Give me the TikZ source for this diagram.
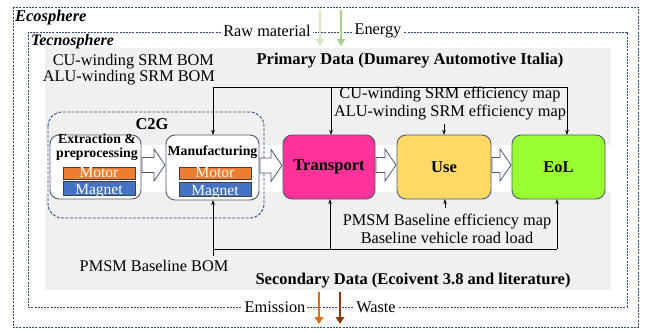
\documentclass[tikz,border=0pt]{standalone}
\usepackage{fontspec}
\setmainfont{Liberation Serif}
\usetikzlibrary{arrows.meta,calc}
\definecolor{ecoblue}{HTML}{2F4A7F}
\definecolor{boxline}{HTML}{4D5A73}
\definecolor{bggrey}{HTML}{F0F0F0}
\definecolor{transp}{HTML}{FF3399}
\definecolor{usecol}{HTML}{FFD966}
\definecolor{eolcol}{HTML}{99FF33}
\definecolor{motorcol}{HTML}{ED7D31}
\definecolor{magnetcol}{HTML}{4472C4}
\definecolor{barline}{HTML}{404040}
\definecolor{greenA}{HTML}{D5E8C8}
\definecolor{greenB}{HTML}{A9D18E}
\definecolor{orangeA}{HTML}{E36C0A}
\definecolor{brownA}{HTML}{843C0C}
\newcommand\hollowarrow[2]{%
  \draw[hollow] let \p1=($(#1.east)+(1,0)$), \p2=($(#2.west)+(-1,0)$), \n1={\x2-11pt}, \n2={\y1+2pt} in
  (\x1,\n2-7.5pt) -- (\n1,\n2-7.5pt) -- (\n1,\n2-16pt) -- (\x2,\n2) -- (\n1,\n2+16pt) -- (\n1,\n2+7.5pt) -- (\x1,\n2+7.5pt) -- cycle;}
\begin{document}
\begin{tikzpicture}[x=1pt,y=-1pt,
  every node/.style={inner sep=0pt,outer sep=0pt},
  font=\fontsize{16.3}{18}\selectfont,
  spheres/.style={draw=ecoblue,line width=0.8pt,dash pattern=on 2pt off 1.2pt},
  c2gbox/.style={draw=ecoblue,line width=0.9pt,dash pattern=on 3pt off 1.5pt,rounded corners=14pt},
  procbox/.style={draw=boxline,line width=0.9pt,rounded corners=9pt,minimum height=64pt},
  bigtxt/.style={font=\fontsize{16.5}{18}\selectfont\bfseries},
  smallbold/.style={font=\fontsize{13.8}{16}\selectfont\bfseries},
  barbox/.style={draw=barline,line width=0.6pt,minimum width=72pt,minimum height=12pt},
  bartext/.style={font=\fontsize{15.5}{16}\selectfont,text=white,anchor=base,text height=10pt},
  feed/.style={draw=black,line width=0.9pt},
  tip/.style={-{Stealth[length=5pt,width=3.5pt]}},
  hollow/.style={draw=boxline,fill=white,line width=0.8pt,line join=miter},
  flowarrow/.style={line width=2.6pt,-{Triangle[length=7pt,width=8.5pt]}},
  gap/.style={fill=white,inner xsep=2pt,inner ysep=1pt}
]
\useasboundingbox (0,0) rectangle (648,330);
% backgrounds
\fill[bggrey] (45,48) rectangle (611,290);
\fill[white] (45,145) rectangle (611,192);
% spheres
\draw[spheres] (13,7) rectangle (638,327);
\draw[spheres] (28,32) rectangle (627,307);
\node[anchor=west,font=\fontsize{16.5}{18}\selectfont\bfseries\itshape] (ecolbl) at (15,18) {Ecosphere};
\node[anchor=west,font=\fontsize{16}{18}\selectfont\bfseries\itshape] (teclbl) at (31,42) {Tecnosphere};
% inputs / outputs
\coordinate (inA1) at (320,10); \coordinate (inA2) at (320,46);
\coordinate (inB1) at (341,10); \coordinate (inB2) at (341,46);
\draw[flowarrow,greenA] (inA1) -- (inA2);
\draw[flowarrow,greenB] (inB1) -- (inB2);
\coordinate (outA1) at (319,292); \coordinate (outA2) at (319,324);
\coordinate (outB1) at (340,292); \coordinate (outB2) at (340,324);
\draw[flowarrow,orangeA] (outA1) -- (outA2);
\draw[flowarrow,brownA] (outB1) -- (outB2);
\node[gap] (raw) at (267,31) {Raw material};
\node[gap] (energy) at (378,31) {Energy};
\node[gap] (emission) at (275,307) {Emission};
\node[gap] (waste) at (376,307) {Waste};
% data labels
\node[bigtxt] (primary) at (410,61) {Primary Data (Dumarey Automotive Italia)};
\node[bigtxt] (secondary) at (413,281) {Secondary Data (Ecoivent 3.8 and literature)};
\node[anchor=east] (cubom) at (214,62) {CU-winding SRM BOM};
\node[anchor=east] (alubom) at (215,78) {ALU-winding SRM BOM};
\node (cueff) at (450,95) {CU-winding SRM efficiency map};
\node (alueff) at (450,113) {ALU-winding SRM efficiency map};
\node (pmsmbom) at (154,266) {PMSM Baseline BOM};
\node (pmsmeff) at (447,222) {PMSM Baseline efficiency map};
\node (roadload) at (447,238) {Baseline vehicle road load};
% C2G group
\draw[c2gbox] (48,112) rectangle (264,218);
\node[bigtxt] (c2glbl) at (152,124) {C2G};
% extraction box
\node[procbox,fill=white,minimum width=91pt,minimum height=64pt] (ext) at (95.5,167) {};
\node[smallbold,align=center,anchor=north] (extlbl) at (97,133.5) {Extraction \&\\[-2pt]preprocessing};
\node[barbox,fill=motorcol] (extmotor) at (99,173) {};
\node[bartext,text depth=0pt] (extmotortx) at ($(extmotor.south)+(0,-2)$) {Motor};
\node[barbox,fill=magnetcol,minimum height=14pt] (extmagnet) at (99,188.5) {};
\node[bartext] (extmagnettx) at ($(extmagnet.south)+(0,-1.5)$) {Magnet};
% manufacturing box
\node[procbox,fill=white,minimum width=93pt,minimum height=65pt] (manu) at (212.5,167.5) {};
\node[smallbold] (manulbl) at (212.5,152) {Manufacturing};
\node[barbox,fill=motorcol] (manumotor) at (215,173.5) {};
\node[bartext,text depth=0pt] (manumotortx) at ($(manumotor.south)+(0,-2)$) {Motor};
\node[barbox,fill=magnetcol,minimum height=14pt] (manumagnet) at (215,189.5) {};
\node[bartext] (manumagnettx) at ($(manumagnet.south)+(0,-1.5)$) {Magnet};
% main stages
\node[procbox,fill=transp,minimum width=92pt,bigtxt] (transport) at (329,167) {Transport};
\node[procbox,fill=usecol,minimum width=94pt,bigtxt] (use) at (444,167) {Use};
\node[procbox,fill=eolcol,minimum width=93pt,bigtxt] (eol) at (558.5,167) {EoL};
% block arrows
\hollowarrow{ext}{manu}
\hollowarrow{manu}{transport}
\hollowarrow{transport}{use}
\hollowarrow{use}{eol}
% primary data feeds
\coordinate (pcorner) at (213,87);
\coordinate (ptr) at (331,87);
\coordinate (peol) at (567,87);
\draw[feed] (pcorner) -- (peol);
\draw[feed,tip] (pcorner) -- (manu.north -| pcorner);
\draw[feed,tip] (ptr) -- (transport.north -| ptr);
\draw[feed,tip] (peol) -- (eol.north -| peol);
\draw[feed,tip] (alueff.south -| use.north) ++(0,3) -- (use.north);
% secondary data feeds
\coordinate (scorner) at (213,256);
\coordinate (sleft) at (213,249);
\coordinate (str) at (330,249);
\coordinate (seol) at (557,249);
\draw[feed] (sleft) -- (seol);
\draw[feed,tip] (scorner) -- (manu.south -| scorner);
\draw[feed,tip] (str) -- (transport.south -| str);
\draw[feed,tip] (seol) -- (eol.south -| seol);
\draw[feed,tip] (445,208) -- (use.south -| 445,0);
\end{tikzpicture}
\end{document}
